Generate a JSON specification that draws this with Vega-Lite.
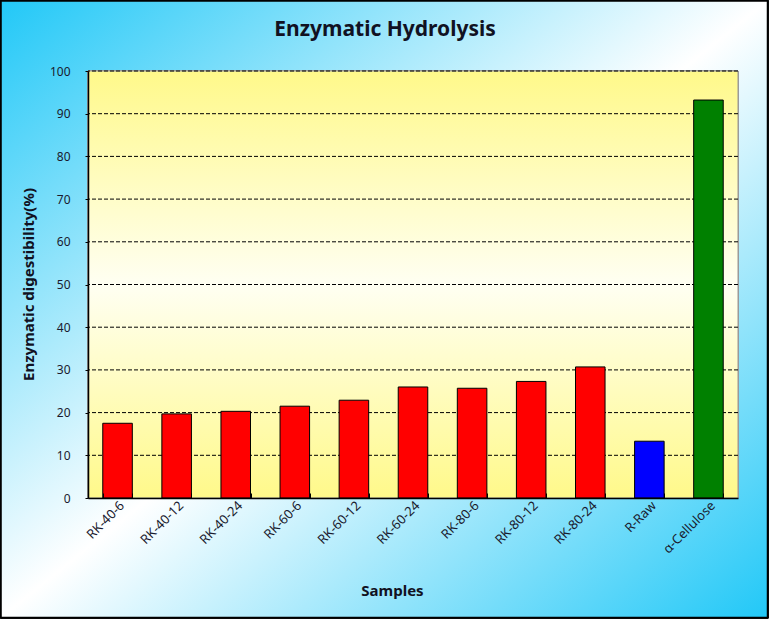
{
  "$schema": "https://vega.github.io/schema/vega-lite/v6.json",
  "width": 650,
  "height": 427,
  "autosize": {"type": "none"},
  "padding": {"left": 88, "top": 71, "right": 31, "bottom": 121},
  "background": "#FFFFFF",
  "title": {
    "text": "Enzymatic Hydrolysis",
    "font": "Noto Sans",
    "fontSize": 21,
    "fontWeight": "bold",
    "color": "#111122",
    "anchor": "middle",
    "dx": -28,
    "baseline": "alphabetic",
    "offset": -57,
    "zindex": 1
  },
  "data": {
    "values": [
      {"sample": "RK-40-6", "value": 17.5, "group": "RK"},
      {"sample": "RK-40-12", "value": 19.7, "group": "RK"},
      {"sample": "RK-40-24", "value": 20.3, "group": "RK"},
      {"sample": "RK-60-6", "value": 21.5, "group": "RK"},
      {"sample": "RK-60-12", "value": 22.9, "group": "RK"},
      {"sample": "RK-60-24", "value": 26.0, "group": "RK"},
      {"sample": "RK-80-6", "value": 25.7, "group": "RK"},
      {"sample": "RK-80-12", "value": 27.3, "group": "RK"},
      {"sample": "RK-80-24", "value": 30.7, "group": "RK"},
      {"sample": "R-Raw", "value": 13.3, "group": "Raw"},
      {"sample": "α-Cellulose", "value": 93.2, "group": "Cellulose"}
    ]
  },
  "layer": [
    {
      "mark": {
        "type": "rect",
        "stroke": "#000000",
        "strokeWidth": 1.5,
        "fill": {
          "gradient": "linear", "x1": 0, "y1": 0, "x2": 1, "y2": 1,
          "stops": [
            {"offset": 0, "color": "#22C8F7"},
            {"offset": 0.5, "color": "#FFFFFF"},
            {"offset": 1, "color": "#22C8F7"}
          ]
        }
      },
      "encoding": {
        "x": {"datum": -0.1338, "type": "quantitative", "scale": {"domain": [0, 1]}, "axis": null},
        "x2": {"datum": 1.0454},
        "y": {"datum": -28.0, "type": "quantitative"},
        "y2": {"datum": 116.4}
      }
    },
    {
      "mark": {
        "type": "rect",
        "stroke": "#999999",
        "strokeWidth": 1,
        "fill": {
          "gradient": "linear", "x1": 0, "y1": 0, "x2": 0, "y2": 1,
          "stops": [
            {"offset": 0, "color": "#FFF98A"},
            {"offset": 0.5, "color": "#FFFFF2"},
            {"offset": 1, "color": "#FFF98A"}
          ]
        }
      },
      "encoding": {
        "y": {"datum": 0, "type": "quantitative"},
        "y2": {"datum": 100}
      }
    },
    {
      "data": {"values": [{"grid": 10}, {"grid": 20}, {"grid": 30}, {"grid": 40}, {"grid": 50}, {"grid": 60}, {"grid": 70}, {"grid": 80}, {"grid": 90}, {"grid": 100}]},
      "mark": {"type": "rule", "color": "#000000", "strokeDash": [4, 2], "strokeWidth": 1},
      "encoding": {
        "y": {"field": "grid", "type": "quantitative"}
      }
    },
    {
      "mark": {"type": "bar", "stroke": "#000000", "strokeWidth": 1},
      "encoding": {
        "x": {
          "field": "sample",
          "type": "nominal",
          "sort": null,
          "scale": {"paddingInner": 0.5, "paddingOuter": 0.25},
          "axis": {
            "title": "Samples",
            "zindex": 1,
            "labelAngle": -45,
            "labelFont": "Noto Sans",
            "labelFontSize": 13,
            "labelColor": "#1a1a2e",
            "labelPadding": 6,
            "tickBand": "extent",
            "tickSize": -5,
            "tickColor": "#000000",
            "domainColor": "#000000",
            "domainWidth": 1.5,
            "titleFont": "Noto Sans",
            "titleFontSize": 15,
            "titleFontWeight": "bold",
            "titleColor": "#111122",
            "titleX": 304,
            "titleY": 92,
            "titleBaseline": "middle",
            "titleAlign": "center"
          }
        },
        "y": {
          "field": "value",
          "type": "quantitative",
          "scale": {"domain": [0, 100], "nice": false},
          "axis": {
            "title": "Enzymatic digestibility(%)",
            "zindex": 1,
            "values": [0, 10, 20, 30, 40, 50, 60, 70, 80, 90, 100],
            "labelFont": "Noto Sans",
            "labelFontSize": 12,
            "labelColor": "#1a1a2e",
            "labelPadding": 15,
            "tickSize": 3,
            "tickColor": "#000000",
            "domainColor": "#000000",
            "domainWidth": 1.5,
            "grid": false,
            "titleFont": "Noto Sans",
            "titleFontSize": 15,
            "titleFontWeight": "bold",
            "titleColor": "#111122",
            "titleX": -60,
            "titleY": 213,
            "titleBaseline": "middle",
            "titleAlign": "center"
          }
        },
        "color": {
          "field": "group",
          "type": "nominal",
          "scale": {"domain": ["RK", "Raw", "Cellulose"], "range": ["#FF0000", "#0000FF", "#008000"]},
          "legend": null
        }
      }
    }
  ],
  "resolve": {"scale": {"x": "independent"}},
  "config": {
    "view": {"stroke": null}
  }
}
